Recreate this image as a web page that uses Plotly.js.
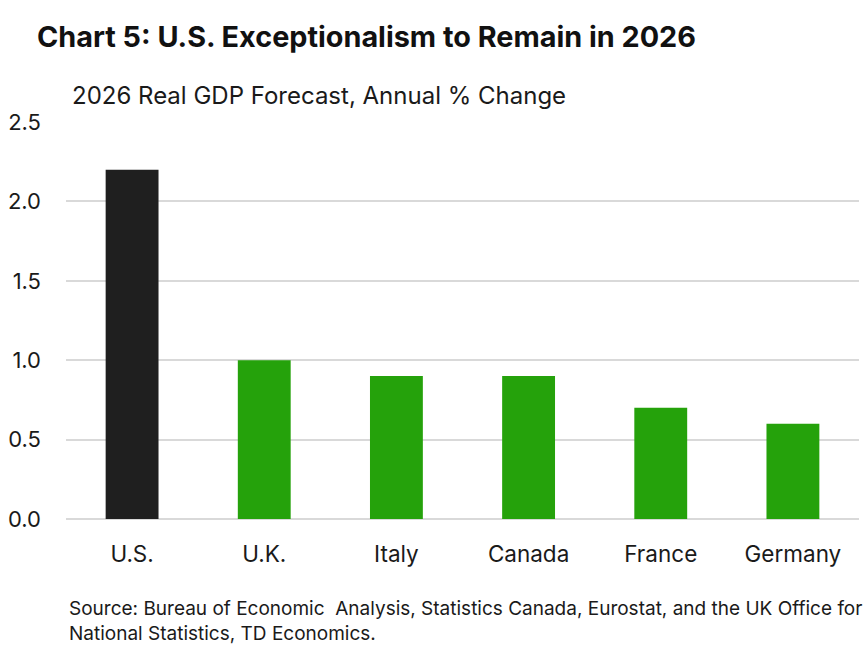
<!DOCTYPE html>
<html>
<head>
<meta charset="utf-8">
<script src="https://cdn.plot.ly/plotly-3.0.1.min.js"></script>
<style>
	body { margin: 0; background: #fff; }
	#chart { width: 868px; height: 648px; }
</style>
</head>
<body>
<div id="chart"></div>
<script>
const countries = ["U.S.", "U.K.", "Italy", "Canada", "France", "Germany"];
const gdpForecast = [2.2, 1.0, 0.9, 0.9, 0.7, 0.6];
const barColors = ["#1f1f1f", "#25a20b", "#25a20b", "#25a20b", "#25a20b", "#25a20b"];
const yTicks = [0, 0.5, 1.0, 1.5, 2.0, 2.5];

const font = "Inter, 'Noto Sans', sans-serif";

const data = [{
	type: 'bar',
	x: countries,
	y: gdpForecast,
	marker: { color: barColors },
	hoverinfo: 'x+y'
}];

const layout = {
	width: 868,
	height: 648,
	margin: { l: 66, r: 9, t: 122, b: 129 },
	paper_bgcolor: '#ffffff',
	plot_bgcolor: '#ffffff',
	bargap: 0.6,
	showlegend: false,
	font: { family: font, color: '#1a1a1a' },
	title: {
		text: '<b>Chart 5: U.S. Exceptionalism to Remain in 2026</b>',
		font: { family: font, size: 28.8, color: '#111111' },
		x: 37 / 868,
		xanchor: 'left',
		y: 1 - 37 / 648,
		yanchor: 'middle'
	},
	xaxis: {
		tickfont: { size: 22.5, family: font, color: '#1a1a1a' },
		showline: false,
		ticks: '',
		ticklabelstandoff: 19
	},
	yaxis: {
		range: [0, 2.5],
		tickvals: yTicks,
		tickformat: '.1f',
		tickfont: { size: 22, family: font, color: '#1a1a1a' },
		gridcolor: '#d9d9d9',
		gridwidth: 2,
		zeroline: true,
		zerolinecolor: '#d9d9d9',
		zerolinewidth: 2,
		showline: false,
		ticklabelstandoff: 24
	},
	annotations: [
		{
			text: '2026 Real GDP Forecast, Annual % Change',
			xref: 'paper', yref: 'paper',
			x: 0.005, y: (519 - 96) / 397,
			xanchor: 'left', yanchor: 'middle',
			showarrow: false,
			font: { size: 24, family: font, color: '#1a1a1a' }
		},
		{
			text: 'Source: Bureau of Economic  Analysis, Statistics Canada, Eurostat, and the UK Office for<br>National Statistics, TD Economics.',
			xref: 'paper', yref: 'paper',
			x: 0.001, y: (519 - 621) / 397,
			xanchor: 'left', yanchor: 'middle',
			align: 'left',
			showarrow: false,
			font: { size: 19, family: font, color: '#1a1a1a' }
		}
	]
};

Plotly.newPlot('chart', data, layout, { displayModeBar: false, staticPlot: true });
</script>
</body>
</html>
